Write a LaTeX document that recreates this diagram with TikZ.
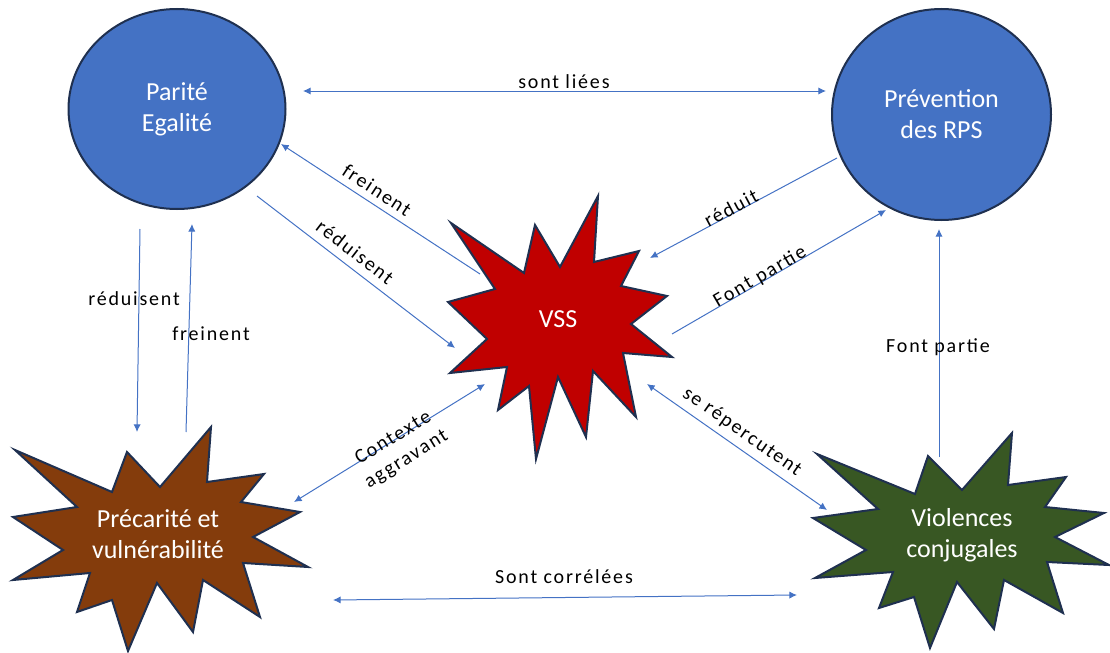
\documentclass[tikz,border=0pt]{standalone}
\usepackage{fontspec}
\setmainfont{Carlito}
\usetikzlibrary{arrows.meta,shapes.geometric}
\definecolor{lien}{HTML}{4472C4}
\definecolor{bleu}{HTML}{4472C4}
\definecolor{contour}{HTML}{1F3050}
\definecolor{rouge}{HTML}{C00000}
\definecolor{brun}{HTML}{843C0C}
\definecolor{vert}{HTML}{385723}

\begin{document}
\begin{tikzpicture}[x=0.5pt,y=-0.5pt,
  >={Latex[length=3.8pt,width=3.6pt]},
  VertexStyle/.style={ellipse,draw=contour,line width=1pt,fill=bleu,text=white,
    align=center,inner sep=0pt,font=\fontsize{13}{15.5}\selectfont},
  StarStyle/.style={draw=contour,line width=1pt,line join=miter},
  StarText/.style={text=white,align=center,font=\fontsize{13}{15.5}\selectfont},
  LabelStyle/.style={inner sep=0pt,align=center,
    font=\fontsize{10}{12.5}\selectfont\addfontfeature{LetterSpace=9}}]
\useasboundingbox (0,0) rectangle (1110,653);
\node[VertexStyle,minimum width=108.5pt,minimum height=100pt] (parite) at (177,109) {Parité\\Egalité};
\node[VertexStyle,minimum width=109.5pt,minimum height=105.5pt] (rps) at (941.5,114.5) {Prévention\\des RPS};
\draw[StarStyle,fill=rouge] (598,196) -- (594,262) -- (639,251) -- (621,286) -- (667,296) -- (631,324)
  -- (672,357) -- (623,353) -- (636,417) -- (593,371) -- (586,437) -- (558,377) -- (536,459)
  -- (529,386) -- (498,410) -- (507,367) -- (450,373) -- (487,339) -- (448,302) -- (495,289)
  -- (451,223) -- (524,273) -- (535,225) -- (560,267) -- cycle;
\draw[StarStyle,fill=brun] (211,427) -- (207,482) -- (264,474) -- (241,502) -- (300,512) -- (253,537)
  -- (308,567) -- (243,563) -- (260,617) -- (203,580) -- (193,632) -- (157,583) -- (128,651)
  -- (112,600) -- (77,612) -- (90,573) -- (13,580) -- (63,550) -- (13,517) -- (77,507)
  -- (15,450) -- (112,492) -- (127,452) -- (160,487) -- cycle;
\draw[StarStyle,fill=vert] (1012,433) -- (1008,485) -- (1066,477) -- (1045,507) -- (1104,513) -- (1055,537)
  -- (1109,565) -- (1047,562) -- (1063,613) -- (1004,580) -- (994,629) -- (957,582) -- (930,648)
  -- (914,597) -- (879,608) -- (893,572) -- (815,578) -- (866,550) -- (813,518) -- (878,509)
  -- (817,454) -- (915,494) -- (928,456) -- (962,490) -- cycle;
\node[StarText] (vss) at (558,319) {VSS};
\node[StarText] (precarite) at (158,534) {Précarité et\\vulnérabilité};
\node[StarText] (violences) at (962,535) {Violences\\conjugales};
\coordinate (liees-a) at (303,91);
\coordinate (liees-b) at (826,91);
\coordinate (frein-a) at (480,274);
\coordinate (frein-b) at (281,144);
\coordinate (reduis-a) at (257,196);
\coordinate (reduis-b) at (455,348);
\coordinate (reduit-a) at (837,158);
\coordinate (reduit-b) at (650,258);
\coordinate (partie-a) at (672,334);
\coordinate (partie-b) at (886,210);
\coordinate (ctx-a) at (294,502);
\coordinate (ctx-b) at (485,384);
\coordinate (rep-a) at (647,384);
\coordinate (rep-b) at (827,510);
\coordinate (partieV-a) at (939,457);
\coordinate (partieV-b) at (939,229);
\coordinate (reduisV-a) at (140,229);
\coordinate (reduisV-b) at (137,432);
\coordinate (freinV-a) at (186,432);
\coordinate (freinV-b) at (192,224);
\coordinate (correl-a) at (333,600);
\coordinate (correl-b) at (797,595);
\tikzset{EdgeStyle/.style={draw=lien,line width=0.5pt}}
\draw[EdgeStyle,<->] (liees-a) -- (liees-b);
\draw[EdgeStyle,->] (frein-a) -- (frein-b);
\draw[EdgeStyle,->] (reduis-a) -- (reduis-b);
\draw[EdgeStyle,->] (reduit-a) -- (reduit-b);
\draw[EdgeStyle,->] (partie-a) -- (partie-b);
\draw[EdgeStyle,<->] (ctx-a) -- (ctx-b);
\draw[EdgeStyle,<->] (rep-a) -- (rep-b);
\draw[EdgeStyle,->] (partieV-a) -- (partieV-b);
\draw[EdgeStyle,->] (reduisV-a) -- (reduisV-b);
\draw[EdgeStyle,->] (freinV-a) -- (freinV-b);
\draw[EdgeStyle,<->] (correl-a) -- (correl-b);
\node[LabelStyle] (l-liees) at (564,82) {sont liées};
\node[LabelStyle,rotate=-33.2] (l-frein) at (377,190) {freinent};
\node[LabelStyle,rotate=-37.5] (l-reduis) at (355,252) {réduisent};
\node[LabelStyle,rotate=28.1] (l-reduit) at (731,208) {réduit};
\node[LabelStyle,rotate=30.1] (l-partie) at (760,277) {Font partie};
\node[LabelStyle,rotate=31.7] (l-ctx) at (400,449) {Contexte\\aggravant};
\node[LabelStyle,rotate=-35] (l-rep) at (742,432) {se répercutent};
\node[LabelStyle] (l-partieV) at (938,347) {Font partie};
\node[LabelStyle] (l-reduisV) at (134,299) {réduisent};
\node[LabelStyle] (l-freinV) at (211,334) {freinent};
\node[LabelStyle] (l-correl) at (564,577) {Sont corrélées};
\end{tikzpicture}
\end{document}
